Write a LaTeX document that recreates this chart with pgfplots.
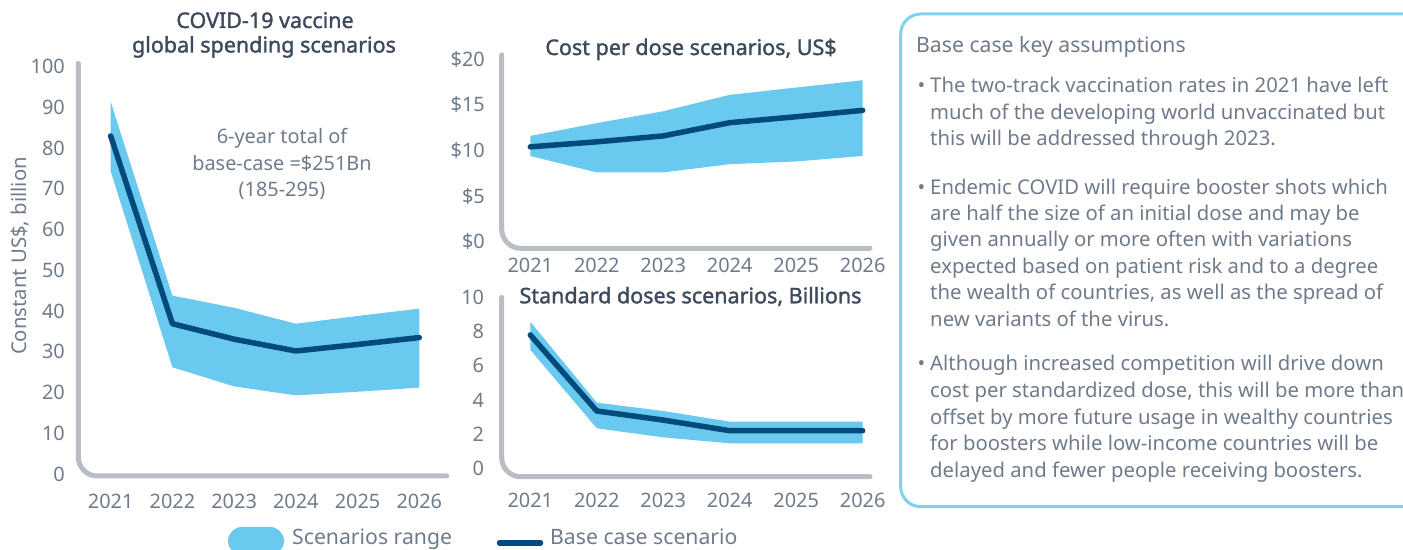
\documentclass[border=0pt]{standalone}
\usepackage{pgfplots}
\pgfplotsset{compat=1.18}
\usepackage{fontspec}
\setmainfont{Noto Sans}
\newfontfamily\semib[FakeBold=1.5]{Noto Sans}

\definecolor{txt}{HTML}{6F7A8A}
\definecolor{ttl}{HTML}{3C4A5C}
\definecolor{axgrey}{HTML}{B9BDC4}
\definecolor{band}{HTML}{69C9EE}
\definecolor{basecol}{HTML}{024A7C}
\definecolor{boxblue}{HTML}{7FD0F2}

\newcommand\fs{\fontsize{19.9bp}{26.5bp}\selectfont}
\newcommand\fb{\fontsize{20.3bp}{26.5bp}\selectfont}
\newcommand\ft{\fontsize{21.5bp}{26.5bp}\selectfont}
\newcommand\fl{\fontsize{21.2bp}{26.5bp}\selectfont}

\pgfplotsset{
  panel/.style={
    scale only axis, clip=false, anchor=south west,
    axis line style={draw=none}, major tick length=0pt,
    xtick={2021,...,2026},
    /pgf/number format/1000 sep={},
    /pgf/number format/assume math mode=true,
    tick label style={font=\fs, text=txt, inner sep=0pt},
    xticklabel style={anchor=base},
    yticklabel style={anchor=base east, yshift=-7.1bp},
  },
  rng/.style={fill=band, draw=none, forget plot},
  basel/.style={basecol, line width=5.5bp, line cap=round, line join=round, mark=none},
}
\newcommand\frameL{\draw[axgrey, line width=5bp, line cap=round, rounded corners=19bp]
  (rel axis cs:0,1) -- (rel axis cs:0,0) -- (rel axis cs:1,0);}
\newcommand\bline[2]{\node[anchor=base west, inner sep=0pt, font=\fb, text=txt] at (930,550-#1) {#2};}
\newcommand\bul[1]{\node[anchor=base, inner sep=0pt, font=\fb, text=txt] at (921.5,550-#1) {\textbullet};}

\begin{document}
\begin{tikzpicture}

% spending, billion US$
\begin{axis}[panel, at={(78.3bp,74bp)}, width=368.4bp, height=412.7bp,
  xmin=2020.475, xmax=2026.444, ymin=-0.49, ymax=100.84,
  ytick={0,10,...,100},
  yticklabel style={xshift=-13.3bp}, xticklabel style={yshift=-32.8bp}]
\addplot[rng] coordinates {(2021,91.4) (2022,43.8) (2023,40.8) (2024,36.9) (2025,38.8) (2026,40.6)
  (2026,21.2) (2025,20.2) (2024,19.3) (2023,21.5) (2022,26.2) (2021,74.3)};
\addplot[basel] coordinates {(2021,83) (2022,36.9) (2023,33.1) (2024,30.2) (2025,31.8) (2026,33.5)};
\frameL
\end{axis}

% cost per dose
\begin{axis}[panel, at={(501.7bp,301.7bp)}, width=368.3bp, height=193.3bp,
  xmin=2020.57, xmax=2026.11, ymin=-0.72, ymax=20.47,
  ytick={0,5,...,20}, yticklabels={\$0,\$5,\$10,\$15,\$20},
  yticklabel style={xshift=-16.7bp}, xticklabel style={yshift=-24.5bp}]
\addplot[rng] coordinates {(2021,11.6) (2022,13.0) (2023,14.3) (2024,16.1) (2025,16.9) (2026,17.7)
  (2026,9.4) (2025,8.8) (2024,8.5) (2023,7.6) (2022,7.6) (2021,9.4)};
\addplot[basel] coordinates {(2021,10.4) (2022,10.95) (2023,11.6) (2024,13.05) (2025,13.7) (2026,14.4)};
\frameL
\end{axis}

% standard doses, billions
\begin{axis}[panel, at={(501.7bp,73.3bp)}, width=368.3bp, height=179.4bp,
  xmin=2020.57, xmax=2026.11, ymin=-0.49, ymax=10.0,
  ytick={0,2,...,10},
  yticklabel style={xshift=-17.4bp}, xticklabel style={yshift=-31.1bp}]
\addplot[rng] coordinates {(2021,8.57) (2022,3.84) (2023,3.35) (2024,2.73) (2025,2.73) (2026,2.73)
  (2026,1.46) (2025,1.46) (2024,1.46) (2023,1.81) (2022,2.34) (2021,6.93)};
\addplot[basel] coordinates {(2021,7.8) (2022,3.35) (2023,2.82) (2024,2.2) (2025,2.2) (2026,2.2)};
\frameL
\end{axis}

\begin{scope}[x=1bp, y=1bp]
% titles and labels
\node[anchor=base, inner sep=0pt, font=\semib\ft, text=ttl] at (265,550-28) {COVID-19 vaccine};
\node[anchor=base, inner sep=0pt, font=\semib\ft, text=ttl] at (264,550-52.5) {global spending scenarios};
\node[anchor=base, inner sep=0pt, font=\semib\ft, text=ttl] at (691,550-55) {Cost per dose scenarios, US\$};
\node[anchor=base, inner sep=0pt, font=\semib\ft, text=ttl] at (690.5,550-303.3) {Standard doses scenarios, Billions};
\node[rotate=90, inner sep=0pt, font=\fb, text=txt] at (20,550-256) {Constant US\$, billion};
\node[anchor=base, inner sep=0pt, font=\fs, text=txt] at (282,550-144) {6-year total of};
\node[anchor=base, inner sep=0pt, font=\fs, text=txt] at (282,550-170.2) {base-case =\$251Bn};
\node[anchor=base, inner sep=0pt, font=\fs, text=txt] at (282,550-196.4) {(185-295)};

% legend
\fill[band, rounded corners=14bp] (228,550-527) rectangle (284,550-555);
\node[anchor=base west, inner sep=0pt, font=\fl, text=txt] at (292,5) {Scenarios range};
\draw[basecol, line width=5.5bp, line cap=round] (499.5,550-542.9) -- (540.5,550-542.9);
\node[anchor=base west, inner sep=0pt, font=\fl, text=txt] at (550,5) {Base case scenario};

% assumptions box
\draw[boxblue, line width=3bp, rounded corners=20bp] (900.7,550-14) rectangle (1430,550-506.7);
\node[anchor=base west, inner sep=0pt, font=\fl, text=txt] at (916,550-52.7) {Base case key assumptions};
\bul{92.7}
\bline{92.7}{The two-track vaccination rates in 2021 have left}
\bline{119.3}{much of the developing world unvaccinated but}
\bline{146}{this will be addressed through 2023.}
\bul{194.3}
\bline{194.3}{Endemic COVID will require booster shots which}
\bline{220.3}{are half the size of an initial dose and may be}
\bline{247}{given annually or more often with variations}
\bline{273.7}{expected based on patient risk and to a degree}
\bline{299.3}{the wealth of countries, as well as the spread of}
\bline{326.7}{new variants of the virus.}
\bul{371}
\bline{371}{Although increased competition will drive down}
\bline{397.7}{cost per standardized dose, this will be more than}
\bline{424.3}{offset by more future usage in wealthy countries}
\bline{451}{for boosters while low-income countries will be}
\bline{477.7}{delayed and fewer people receiving boosters.}

\pgfresetboundingbox
\useasboundingbox (0,0) rectangle (1403,550);
\end{scope}
\end{tikzpicture}
\end{document}
